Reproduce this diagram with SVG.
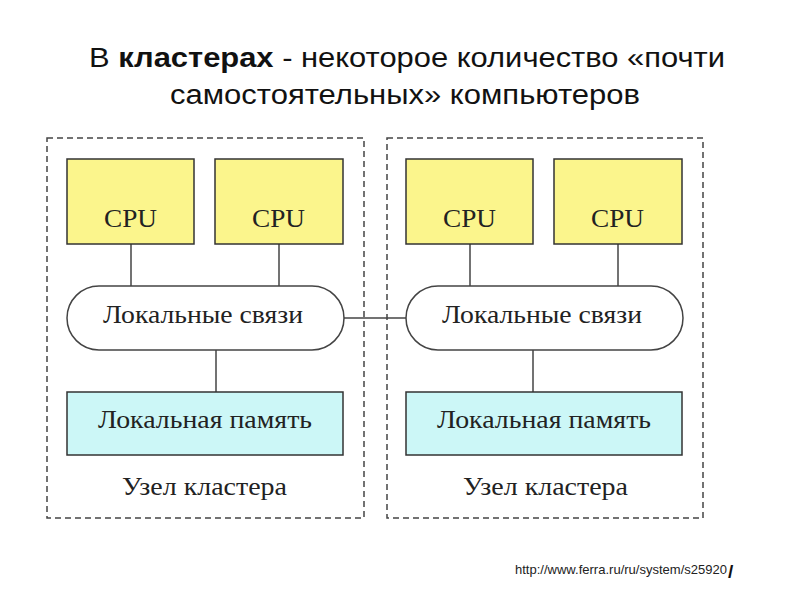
<svg xmlns="http://www.w3.org/2000/svg" width="800" height="600" viewBox="0 0 800 600">
<style>
.title{font-family:"Liberation Sans",Arial,sans-serif;font-size:27px;fill:#111}
.lbl{font-family:"Liberation Serif","Times New Roman",serif;fill:#222}
.cpu rect{fill:#FBF58C;stroke:#333;stroke-width:1.5}
.mem rect{fill:#CCF7F7;stroke:#333;stroke-width:1.5}
.bus rect{fill:#fff;stroke:#444;stroke-width:1.5}
.cluster rect{fill:none;stroke:#444;stroke-width:1.5;stroke-dasharray:6,4}
.conn line{stroke:#444;stroke-width:1.5}
.url{font-family:"Liberation Sans",Arial,sans-serif;font-size:13px;fill:#222}
</style>
<rect width="800" height="600" fill="#fff"/>
<text class="title" x="89" y="67" textLength="636" lengthAdjust="spacingAndGlyphs">В <tspan font-weight="bold">кластерах</tspan> - некоторое количество «почти</text>
<text class="title" x="170" y="104" textLength="470" lengthAdjust="spacingAndGlyphs">самостоятельных» компьютеров</text>

<g id="cluster1" class="cluster">
<rect x="47" y="138" width="317" height="380"/>
<text class="lbl" x="122" y="495" font-size="25" textLength="165" lengthAdjust="spacingAndGlyphs">Узел кластера</text>
</g>
<g id="cluster2" class="cluster">
<rect x="387" y="138" width="316" height="380"/>
<text class="lbl" x="463" y="495" font-size="25" textLength="165" lengthAdjust="spacingAndGlyphs">Узел кластера</text>
</g>

<g id="connectors" class="conn">
<line x1="131" y1="244" x2="131" y2="287"/>
<line x1="279" y1="244" x2="279" y2="287"/>
<line x1="216" y1="350" x2="216" y2="392"/>
<line x1="470" y1="244" x2="470" y2="287"/>
<line x1="618" y1="244" x2="618" y2="287"/>
<line x1="533" y1="350" x2="533" y2="392"/>
<line x1="344" y1="318" x2="406" y2="318"/>
</g>

<g id="cpu1a" class="cpu"><rect x="67" y="159" width="127" height="85"/><text class="lbl" x="104" y="227" font-size="26" textLength="53" lengthAdjust="spacingAndGlyphs">CPU</text></g>
<g id="cpu1b" class="cpu"><rect x="215" y="159" width="128" height="85"/><text class="lbl" x="252" y="227" font-size="26" textLength="53" lengthAdjust="spacingAndGlyphs">CPU</text></g>
<g id="bus1" class="bus"><rect x="67" y="286" width="277" height="64" rx="32" ry="32"/><text class="lbl" x="103" y="323" font-size="25" textLength="200" lengthAdjust="spacingAndGlyphs">Локальные связи</text></g>
<g id="mem1" class="mem"><rect x="67" y="392" width="276" height="63"/><text class="lbl" x="98" y="428" font-size="25" textLength="214" lengthAdjust="spacingAndGlyphs">Локальная память</text></g>

<g id="cpu2a" class="cpu"><rect x="406" y="159" width="127" height="85"/><text class="lbl" x="443" y="227" font-size="26" textLength="53" lengthAdjust="spacingAndGlyphs">CPU</text></g>
<g id="cpu2b" class="cpu"><rect x="554" y="159" width="128" height="85"/><text class="lbl" x="591" y="227" font-size="26" textLength="53" lengthAdjust="spacingAndGlyphs">CPU</text></g>
<g id="bus2" class="bus"><rect x="406" y="286" width="277" height="64" rx="32" ry="32"/><text class="lbl" x="442" y="323" font-size="25" textLength="200" lengthAdjust="spacingAndGlyphs">Локальные связи</text></g>
<g id="mem2" class="mem"><rect x="406" y="392" width="276" height="63"/><text class="lbl" x="437" y="428" font-size="25" textLength="214" lengthAdjust="spacingAndGlyphs">Локальная память</text></g>

<text class="url" x="515" y="574" textLength="212" lengthAdjust="spacingAndGlyphs">http://www.ferra.ru/ru/system/s25920</text>
<text x="728" y="578" style="font-family:'Liberation Sans',Arial,sans-serif;font-size:19px;font-weight:bold;fill:#111">/</text>
</svg>
